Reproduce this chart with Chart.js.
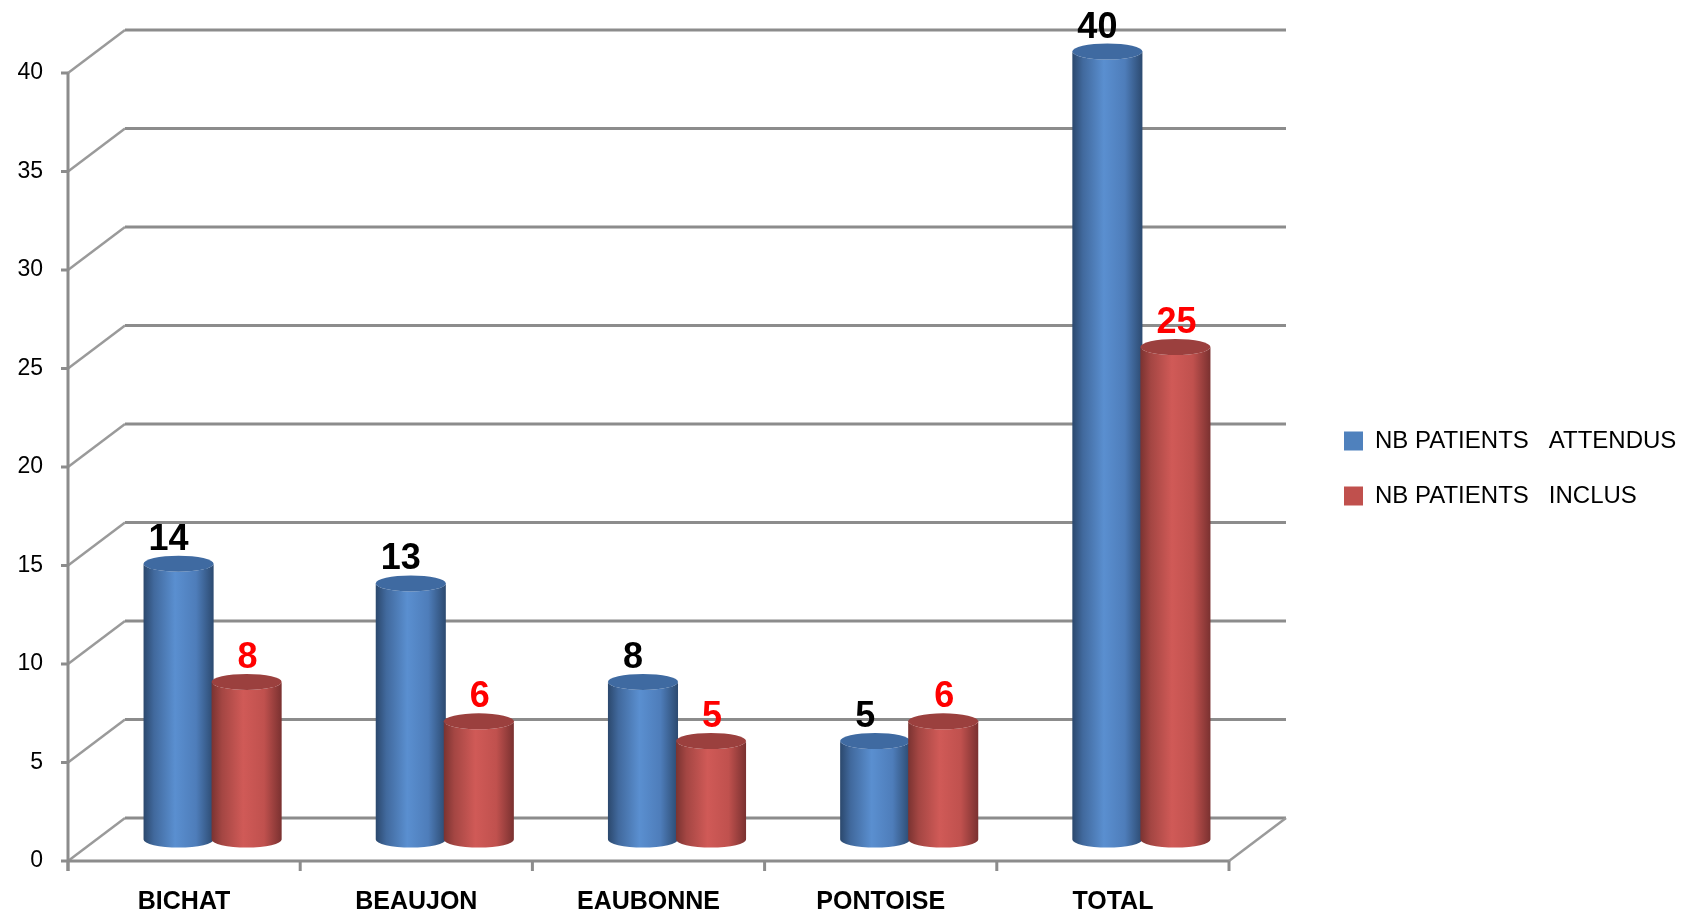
<!doctype html>
<html>

<head>
  <title>Patients</title>
  <script src="https://cdn.jsdelivr.net/npm/chart.js@4/dist/chart.umd.min.js"></script>
  <style>
    body {
      margin: 0;
      background: #ffffff;
    }
  </style>
</head>

<body>
<canvas id="canvas" width="1702" height="918"></canvas>
<script>
  var CATEGORIES = ['BICHAT', 'BEAUJON', 'EAUBONNE', 'PONTOISE', 'TOTAL'];
  var ATTENDUS = [14, 13, 8, 5, 40];
  var INCLUS = [8, 6, 5, 6, 25];
  var SERIES_NAMES = ['NB PATIENTS   ATTENDUS', 'NB PATIENTS   INCLUS'];
  var Y_MAX = 40;
  var Y_STEP = 5;

  // depth of the 3d box (back wall offset)
  var DEPTH_X = 57;
  var DEPTH_Y = -43;

  var cylinderColors = [
    { top: '#3f6aa1', stops: ['#2b486d', '#41699d', '#5a8fd0', '#4e7dba', '#2c4a70'], label: '#000000', labelShift: -10 },
    { top: '#9b403e', stops: ['#7a3331', '#a44643', '#d05a57', '#c0514e', '#7a3130'], label: '#ff0000', labelShift: 1 }
  ];

  var box3d = {
    id: 'box3d',
    afterLayout: function (chart) {
      // put the legend where the original has it
      var lg = chart.legend;
      if (lg) {
        lg.left = 1313;
        lg.right = chart.width;
        lg.width = lg.right - lg.left;
        lg.top = 73;
        lg.bottom = 864;
        lg.height = lg.bottom - lg.top;
      }
    },
    beforeDatasetsDraw: function (chart) {
      var ctx = chart.ctx;
      var a = chart.chartArea;
      var x = chart.scales.x;
      var y = chart.scales.y;
      var y0 = y.getPixelForValue(0);

      ctx.save();
      ctx.lineCap = 'butt';

      // walls: diagonals on the left, lines on the back wall
      for (var v = 0; v <= Y_MAX; v += Y_STEP) {
        var yp = y.getPixelForValue(v);
        ctx.strokeStyle = '#9a9a9a';
        ctx.lineWidth = 2.5;
        ctx.beginPath();
        ctx.moveTo(a.left, yp);
        ctx.lineTo(a.left + DEPTH_X, yp + DEPTH_Y);
        ctx.stroke();
        ctx.strokeStyle = '#8c8c8c';
        ctx.lineWidth = 3;
        ctx.beginPath();
        ctx.moveTo(a.left + DEPTH_X, yp + DEPTH_Y);
        ctx.lineTo(a.right + DEPTH_X, yp + DEPTH_Y);
        ctx.stroke();
        // tick mark
        ctx.beginPath();
        ctx.moveTo(a.left - 7, yp);
        ctx.lineTo(a.left, yp);
        ctx.stroke();
      }

      // floor
      ctx.strokeStyle = '#8c8c8c';
      ctx.lineWidth = 3;
      ctx.beginPath();
      ctx.moveTo(a.left, y0);
      ctx.lineTo(a.right, y0);
      ctx.stroke();
      ctx.strokeStyle = '#9a9a9a';
      ctx.lineWidth = 2.5;
      ctx.beginPath();
      ctx.moveTo(a.right, y0);
      ctx.lineTo(a.right + DEPTH_X, y0 + DEPTH_Y);
      ctx.stroke();

      // y axis
      ctx.strokeStyle = '#8c8c8c';
      ctx.lineWidth = 3;
      ctx.beginPath();
      ctx.moveTo(a.left, y.getPixelForValue(Y_MAX));
      ctx.lineTo(a.left, y0 + 10);
      ctx.stroke();

      // category ticks
      var step = x.getPixelForValue(1) - x.getPixelForValue(0);
      for (var i = 0; i <= CATEGORIES.length; i++) {
        var xp = x.getPixelForValue(i) - step / 2;
        ctx.beginPath();
        ctx.moveTo(xp, y0);
        ctx.lineTo(xp, y0 + 10);
        ctx.stroke();
      }

      // cylinders
      var ry = 8;
      chart.data.datasets.forEach(function (ds, di) {
        var meta = chart.getDatasetMeta(di);
        var col = cylinderColors[di];
        meta.data.forEach(function (bar, j) {
          var cx = bar.x + DEPTH_X / 2;
          var top = bar.y + DEPTH_Y / 2;
          var bot = bar.base + DEPTH_Y / 2;
          var rx = bar.width / 2;

          var g = ctx.createLinearGradient(cx - rx, 0, cx + rx, 0);
          g.addColorStop(0, col.stops[0]);
          g.addColorStop(0.15, col.stops[1]);
          g.addColorStop(0.45, col.stops[2]);
          g.addColorStop(0.75, col.stops[3]);
          g.addColorStop(1, col.stops[4]);

          ctx.fillStyle = g;
          ctx.beginPath();
          ctx.moveTo(cx - rx, top);
          ctx.lineTo(cx - rx, bot);
          ctx.ellipse(cx, bot, rx, ry, 0, Math.PI, 0, true);
          ctx.lineTo(cx + rx, top);
          ctx.ellipse(cx, top, rx, ry, 0, 0, Math.PI, false);
          ctx.closePath();
          ctx.fill();

          ctx.fillStyle = col.top;
          ctx.beginPath();
          ctx.ellipse(cx, top, rx, ry, 0, 0, Math.PI * 2);
          ctx.fill();

          ctx.fillStyle = col.label;
          ctx.font = 'bold 36px "Liberation Sans"';
          ctx.textAlign = 'center';
          ctx.textBaseline = 'alphabetic';
          ctx.fillText(String(ds.data[j]), cx + col.labelShift, top - ry - 6);
        });
      });

      ctx.restore();
      return false;
    }
  };

  window.onload = function () {
    var ctx = document.getElementById('canvas').getContext('2d');
    window.myChart = new Chart(ctx, {
      type: 'bar',
      data: {
        labels: CATEGORIES,
        datasets: [{
          label: SERIES_NAMES[0],
          data: ATTENDUS,
          backgroundColor: '#4f81bd',
          borderWidth: 0
        }, {
          label: SERIES_NAMES[1],
          data: INCLUS,
          backgroundColor: '#c0504d',
          borderWidth: 0
        }]
      },
      options: {
        responsive: false,
        animation: false,
        categoryPercentage: 0.586,
        barPercentage: 1.03,
        layout: {
          padding: { top: 73, right: 113, bottom: 0, left: 0 }
        },
        plugins: {
          legend: {
            position: 'right',
            align: 'center',
            maxWidth: 360,
            labels: {
              boxWidth: 19,
              boxHeight: 19,
              padding: 31,
              color: '#000000',
              font: { family: '"Liberation Sans"', size: 24 }
            }
          },
          tooltip: { enabled: false }
        },
        scales: {
          x: {
            grid: { display: false, drawTicks: false },
            border: { display: false },
            ticks: {
              padding: 26,
              color: '#000000',
              font: { family: '"Liberation Sans"', size: 25, weight: 'bold' }
            },
            afterFit: function (scale) { scale.height = 57; }
          },
          y: {
            min: 0,
            max: Y_MAX,
            grid: { display: false, drawTicks: false },
            border: { display: false },
            ticks: {
              stepSize: Y_STEP,
              padding: 25,
              color: '#000000',
              font: { family: '"Liberation Sans"', size: 23 }
            },
            afterFit: function (scale) { scale.width = 68; }
          }
        }
      },
      plugins: [box3d]
    });
  };
</script>
</body>

</html>
